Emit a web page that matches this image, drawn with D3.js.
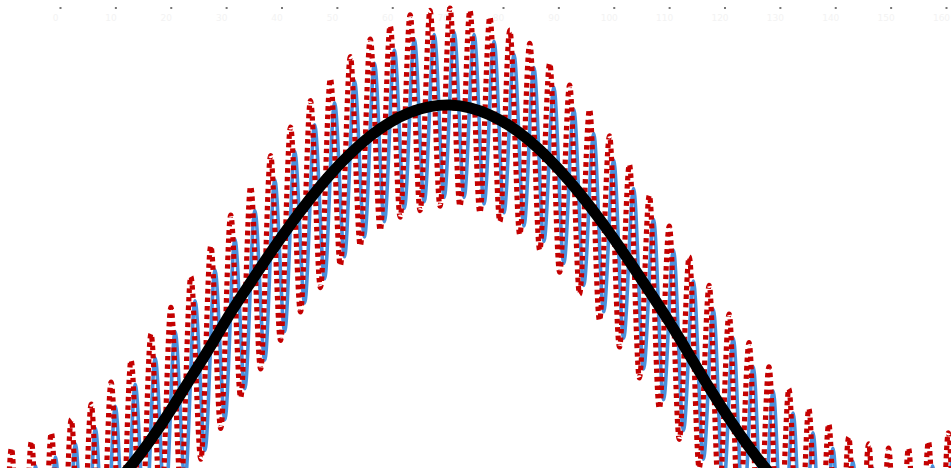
<!DOCTYPE html>
<html>
<head>
<meta charset="utf-8">
<script src="https://cdn.jsdelivr.net/npm/d3@7"></script>
<style>
  html, body { margin: 0; padding: 0; background: #ffffff; }
  svg { display: block; }
</style>
</head>
<body>
<svg id="chart" width="951" height="468"></svg>
<script>
// ---- data ----
const tickValues = [0, 10, 20, 30, 40, 50, 60, 70, 80, 90, 100, 110, 120, 130, 140, 150, 160];
const tickLabels = ["0", "10", "20", "30", "40", "50", "60", "70", "80", "90", "100", "110", "120", "130", "140", "150", "160"];

// oscillating samples (alternating peak / trough), first sample x and step
const sampleStart = -12.37;
const sampleStep = 1.8;
const blueShift = 0.75;

const redValues = [
  -0.56, -1.46, -0.56, -1.45, -0.53, -1.42, -0.49, -1.36, -0.43, -1.30,
  -0.36, -1.21, -0.26, -1.11, -0.16, -1.00, -0.04, -0.88, 0.08, -0.75,
  0.22, -0.61, 0.36, -0.47, 0.50, -0.33, 0.63, -0.20, 0.77, -0.07,
  0.90, 0.06, 1.02, 0.17, 1.12, 0.27, 1.22, 0.36, 1.30, 0.43,
  1.36, 0.49, 1.41, 0.52, 1.43, 0.54, 1.44, 0.54, 1.43, 0.51,
  1.40, 0.47, 1.34, 0.41, 1.28, 0.34, 1.19, 0.24, 1.09, 0.14,
  0.98, 0.02, 0.86, -0.10, 0.73, -0.24, 0.59, -0.38, 0.45, -0.52,
  0.31, -0.65, 0.18, -0.79, 0.05, -0.92, -0.08, -1.04, -0.19, -1.14,
  -0.29, -1.24, -0.38, -1.32, -0.45, -1.38, -0.51, -1.43, -0.54, -1.45,
  -0.56, -1.46, -0.56, -1.45, -0.53, -1.42, -0.49, -1.36, -0.43
];

const blueValues = [
  -0.67, -1.42, -0.67, -1.41, -0.64, -1.38, -0.60, -1.32, -0.54, -1.26,
  -0.47, -1.17, -0.37, -1.07, -0.27, -0.96, -0.15, -0.84, -0.03, -0.71,
  0.11, -0.57, 0.25, -0.43, 0.39, -0.29, 0.52, -0.16, 0.66, -0.03,
  0.79, 0.10, 0.91, 0.21, 1.01, 0.31, 1.11, 0.40, 1.19, 0.47,
  1.25, 0.53, 1.30, 0.56, 1.32, 0.58, 1.33, 0.58, 1.32, 0.55,
  1.29, 0.51, 1.23, 0.45, 1.17, 0.38, 1.08, 0.28, 0.98, 0.18,
  0.87, 0.06, 0.75, -0.06, 0.62, -0.20, 0.48, -0.34, 0.34, -0.48,
  0.20, -0.61, 0.07, -0.75, -0.06, -0.88, -0.19, -1.00, -0.30, -1.10,
  -0.40, -1.20, -0.49, -1.28, -0.56, -1.34, -0.62, -1.39, -0.65, -1.41,
  -0.67, -1.42, -0.67, -1.41, -0.64, -1.38, -0.60, -1.32, -0.54
];

// smooth base curve, sampled every other oscillation sample
const blackStep = 3.6;
const blackValues = [
  -0.999, -0.996, -0.974, -0.940, -0.890, -0.820, -0.740, -0.640, -0.520, -0.385,
  -0.240, -0.095, 0.056, 0.194, 0.329, 0.457, 0.576, 0.685, 0.779, 0.859,
  0.922, 0.967, 0.993, 1.000, 0.987, 0.955, 0.905, 0.837, 0.752, 0.653,
  0.542, 0.420, 0.289, 0.153, 0.014, -0.135, -0.285, -0.425, -0.555, -0.670,
  -0.765, -0.845, -0.905, -0.950, -0.982, -0.999, -0.996, -0.974, -0.932, -0.873
];

// ---- chart ----
const W = 951, H = 468;
const svg = d3.select("#chart");

const x = d3.scaleLinear().domain([0, 160]).range([60, 946]);
const y = d3.scaleLinear().domain([-1, 1]).range([545, 105]);

const defs = svg.append("defs");
defs.append("filter").attr("id", "soft")
  .append("feGaussianBlur").attr("stdDeviation", 0.55);
defs.append("clipPath").attr("id", "clip")
  .append("rect").attr("x", 0).attr("y", 0).attr("width", W).attr("height", H);

svg.append("rect").attr("width", W).attr("height", H).attr("fill", "#ffffff");

// top axis (ticks and faint labels)
const axisG = svg.append("g").attr("transform", "translate(0,7)");
const axis = d3.axisBottom(x).tickValues(tickValues)
  .tickSize(2).tickFormat((d, i) => tickLabels[i]);
axisG.call(axis);
axisG.select(".domain").remove();
axisG.selectAll(".tick line").attr("stroke", "#777").attr("stroke-width", 2);
axisG.selectAll(".tick text")
  .attr("fill", "#f3f3f3")
  .attr("font-family", "DejaVu Sans, sans-serif")
  .attr("font-size", 9)
  .attr("dx", -5)
  .attr("dy", 9);

const plot = svg.append("g").attr("clip-path", "url(#clip)").attr("filter", "url(#soft)");

const oscLine = d3.line()
  .x(d => x(d[0]))
  .y(d => y(d[1]))
  .curve(d3.curveMonotoneX);

const blueData = blueValues.map((v, i) => [sampleStart + blueShift + i * sampleStep, v]);
const redData = redValues.map((v, i) => [sampleStart + i * sampleStep, v]);
const blackData = blackValues.map((v, i) => [sampleStart + i * blackStep, v]);

plot.append("path")
  .datum(blueData)
  .attr("d", oscLine)
  .attr("fill", "none")
  .attr("stroke", "#4a90dc")
  .attr("stroke-width", 3.6);

plot.append("path")
  .datum(redData)
  .attr("d", oscLine)
  .attr("fill", "none")
  .attr("stroke", "#c40000")
  .attr("stroke-width", 5.2)
  .attr("stroke-dasharray", "4.5,4");

plot.append("path")
  .datum(blackData)
  .attr("d", d3.line().x(d => x(d[0])).y(d => y(d[1])).curve(d3.curveNatural))
  .attr("fill", "none")
  .attr("stroke", "#000000")
  .attr("stroke-width", 11);
</script>
</body>
</html>
